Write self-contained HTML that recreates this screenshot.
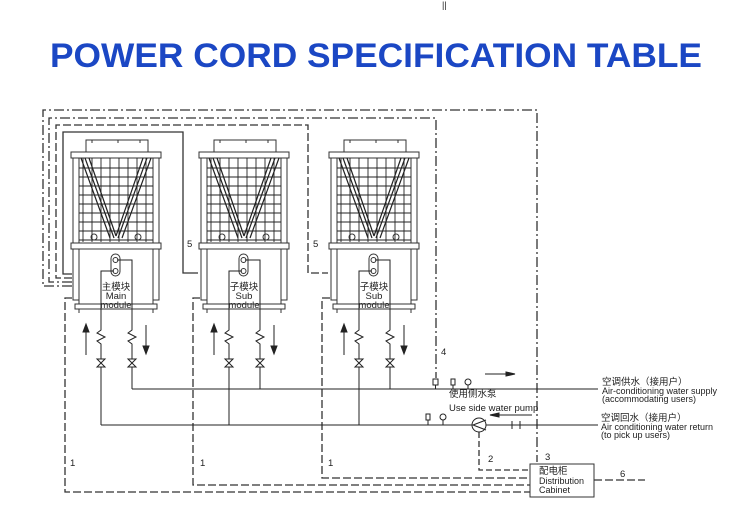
<!DOCTYPE html>
<html><head><meta charset="utf-8"><style>
body{margin:0;background:#fff;}
svg{display:block;}
text{font-family:"Liberation Sans","Noto Sans CJK SC",sans-serif;fill:#222;}
</style></head><body>
<svg width="750" height="523" viewBox="0 0 750 523" xmlns="http://www.w3.org/2000/svg">
<defs>
<g id="unit" stroke="#333" fill="none" stroke-width="1">
  <!-- top grille box -->
  <rect x="16" y="140" width="62" height="12" fill="#fff"/>
  <line x1="22" y1="140" x2="22" y2="143"/><line x1="48" y1="140" x2="48" y2="143"/><line x1="70" y1="140" x2="70" y2="143"/>
  <!-- top rail -->
  <rect x="1" y="152" width="90" height="6" fill="#fff"/>
  <!-- side frames -->
  <rect x="3" y="158" width="6" height="142"/>
  <rect x="83" y="158" width="6" height="142"/>
  <!-- grid -->
  <g stroke="#222" stroke-width="0.9">
    <line x1="13" y1="158" x2="13" y2="242"/><line x1="22" y1="158" x2="22" y2="242"/><line x1="31" y1="158" x2="31" y2="242"/><line x1="40" y1="158" x2="40" y2="242"/><line x1="49" y1="158" x2="49" y2="242"/><line x1="58" y1="158" x2="58" y2="242"/><line x1="67" y1="158" x2="67" y2="242"/><line x1="76" y1="158" x2="76" y2="242"/>
    <line x1="9" y1="168" x2="83" y2="168"/><line x1="9" y1="177" x2="83" y2="177"/><line x1="9" y1="186" x2="83" y2="186"/><line x1="9" y1="195" x2="83" y2="195"/><line x1="9" y1="204" x2="83" y2="204"/><line x1="9" y1="213" x2="83" y2="213"/><line x1="9" y1="222" x2="83" y2="222"/><line x1="9" y1="231" x2="83" y2="231"/><line x1="9" y1="240" x2="83" y2="240"/>
  </g>
  <!-- V coils -->
  <g stroke="#222" stroke-width="1.2">
    <line x1="11" y1="158" x2="40" y2="238"/><line x1="15" y1="158" x2="44" y2="238"/><line x1="19" y1="158" x2="46" y2="236"/>
    <line x1="81" y1="158" x2="52" y2="238"/><line x1="77" y1="158" x2="48" y2="238"/><line x1="73" y1="158" x2="46" y2="236"/>
  </g>
  <circle cx="24" cy="237" r="3"/><circle cx="68" cy="237" r="3"/>
  <!-- band -->
  <rect x="1" y="243" width="90" height="6" fill="#fff"/>
  <!-- cabinet -->
  <rect x="9" y="249" width="74" height="55"/>
  <rect x="5" y="304" width="82" height="5"/>
  <line x1="9" y1="309" x2="9" y2="313"/><line x1="83" y1="309" x2="83" y2="313"/>
  <!-- pill -->
  <rect x="41" y="254" width="9" height="22" rx="4.5"/>
  <circle cx="45.5" cy="260" r="2.5"/><circle cx="45.5" cy="271" r="2.5"/>
  <polyline points="47,260 62,260 62,313" stroke="#222"/>
  <polyline points="44,271 31,271 31,313" stroke="#222"/>
</g>
<g id="pipes" stroke="#222" fill="none" stroke-width="1">
  <!-- arrows -->
  <line x1="16" y1="330" x2="16" y2="355"/><polygon points="13,332 19,332 16,324" fill="#222"/>
  <line x1="76" y1="325" x2="76" y2="348"/><polygon points="73,346 79,346 76,354" fill="#222"/>
  <!-- check valves -->
  <polyline points="31,313 31,330 27,333 35,337 27,341 31,344 31,389"/>
  <polyline points="62,313 62,330 58,333 66,337 58,341 62,344 62,389"/>
  <!-- gate valves -->
  <polygon points="27,359 35,359 27,367 35,367" fill="#fff"/>
  <polygon points="58,359 66,359 58,367 66,367" fill="#fff"/>
</g>
</defs>

<text x="442" y="8" font-size="9">||</text>
<text x="376" y="67" font-size="34" font-weight="bold" text-anchor="middle" style="fill:#1b47c4" textLength="652" lengthAdjust="spacingAndGlyphs">POWER CORD SPECIFICATION TABLE</text>

<use href="#unit" x="70"/>
<use href="#unit" x="198"/>
<use href="#unit" x="328"/>
<use href="#pipes" x="70"/>
<use href="#pipes" x="198"/>
<use href="#pipes" x="328"/>

<g font-size="9.5" text-anchor="middle">
<text x="116" y="290">主模块</text><text x="116" y="299">Main</text><text x="116" y="308">module</text>
<text x="244" y="290">子模块</text><text x="244" y="299">Sub</text><text x="244" y="308">module</text>
<text x="374" y="290">子模块</text><text x="374" y="299">Sub</text><text x="374" y="308">module</text>
</g>

<!-- control cables top -->
<g fill="none" stroke="#333" stroke-width="1.3">
<polyline points="72,286 43,286 43,110 537,110 537,462" stroke-dasharray="10,3,2,3"/>
<polyline points="72,282 49,282 49,118 436,118 436,378" stroke-dasharray="10,3,2,3"/>
<polyline points="72,278 56,278 56,125 308,125 308,273 328,273" stroke-dasharray="8,3"/>
<polyline points="72,274 63,274 63,132 183,132 183,273 198,273"/>
<!-- power cables to cabinet -->
<polyline points="72,298 65,298 65,492 530,492" stroke-dasharray="8,3"/>
<polyline points="200,298 193,298 193,485 530,485" stroke-dasharray="8,3"/>
<polyline points="330,298 322,298 322,478 530,478" stroke-dasharray="8,3"/>
<polyline points="479,432 479,470 530,470" stroke-dasharray="6,3"/>
<line x1="594" y1="480" x2="645" y2="480" stroke-dasharray="8,3"/>
</g>

<!-- water lines -->
<g stroke="#222" fill="none" stroke-width="1">
<line x1="101" y1="367" x2="101" y2="425"/>
<line x1="229" y1="367" x2="229" y2="425"/>
<line x1="359" y1="367" x2="359" y2="425"/>
<line x1="132" y1="389" x2="598" y2="389"/>
<line x1="101" y1="425" x2="472" y2="425"/>
<line x1="486" y1="425" x2="598" y2="425"/>
<circle cx="479" cy="425" r="7" fill="#fff"/>
<polyline points="486,420 473,425 486,430"/>
<line x1="512" y1="421" x2="512" y2="429"/><line x1="520" y1="421" x2="520" y2="429"/><line x1="512" y1="425" x2="520" y2="425"/>
<!-- sensors supply -->
<rect x="433" y="379" width="5" height="6"/><line x1="435.5" y1="385" x2="435.5" y2="389"/>
<rect x="451" y="379" width="4" height="6"/><line x1="453" y1="385" x2="453" y2="389"/>
<circle cx="468" cy="382" r="3"/><line x1="468" y1="385" x2="468" y2="389"/>
<rect x="426" y="414" width="4" height="6"/><line x1="428" y1="420" x2="428" y2="425"/>
<circle cx="443" cy="417" r="3"/><line x1="443" y1="420" x2="443" y2="425"/>
<line x1="485" y1="374" x2="508" y2="374"/><polygon points="506,372 515,374 506,376" fill="#222"/>
<line x1="498" y1="415" x2="532" y2="415"/><polygon points="499,413 490,415 499,417" fill="#222"/>
<rect x="530" y="464" width="64" height="33" fill="#fff" stroke="#333"/>
</g>

<g font-size="9.5">
<text x="187" y="247">5</text><text x="313" y="247">5</text>
<text x="441" y="355">4</text>
<text x="70" y="466">1</text><text x="200" y="466">1</text><text x="328" y="466">1</text>
<text x="488" y="462">2</text><text x="545" y="460">3</text><text x="620" y="477">6</text>
<text x="449" y="397">使用侧水泵</text>
<text x="449" y="411">Use side water pump</text>
<text x="602" y="385">空调供水（接用户）</text>
<text x="602" y="394" font-size="9">Air-conditioning water supply</text>
<text x="602" y="402" font-size="9">(accommodating users)</text>
<text x="601" y="421">空调回水（接用户）</text>
<text x="601" y="430" font-size="9">Air conditioning water return</text>
<text x="601" y="438" font-size="9">(to pick up users)</text>
<text x="539" y="474">配电柜</text>
<text x="539" y="484" font-size="9">Distribution</text>
<text x="539" y="493" font-size="9">Cabinet</text>
</g>
</svg>
</body></html>
